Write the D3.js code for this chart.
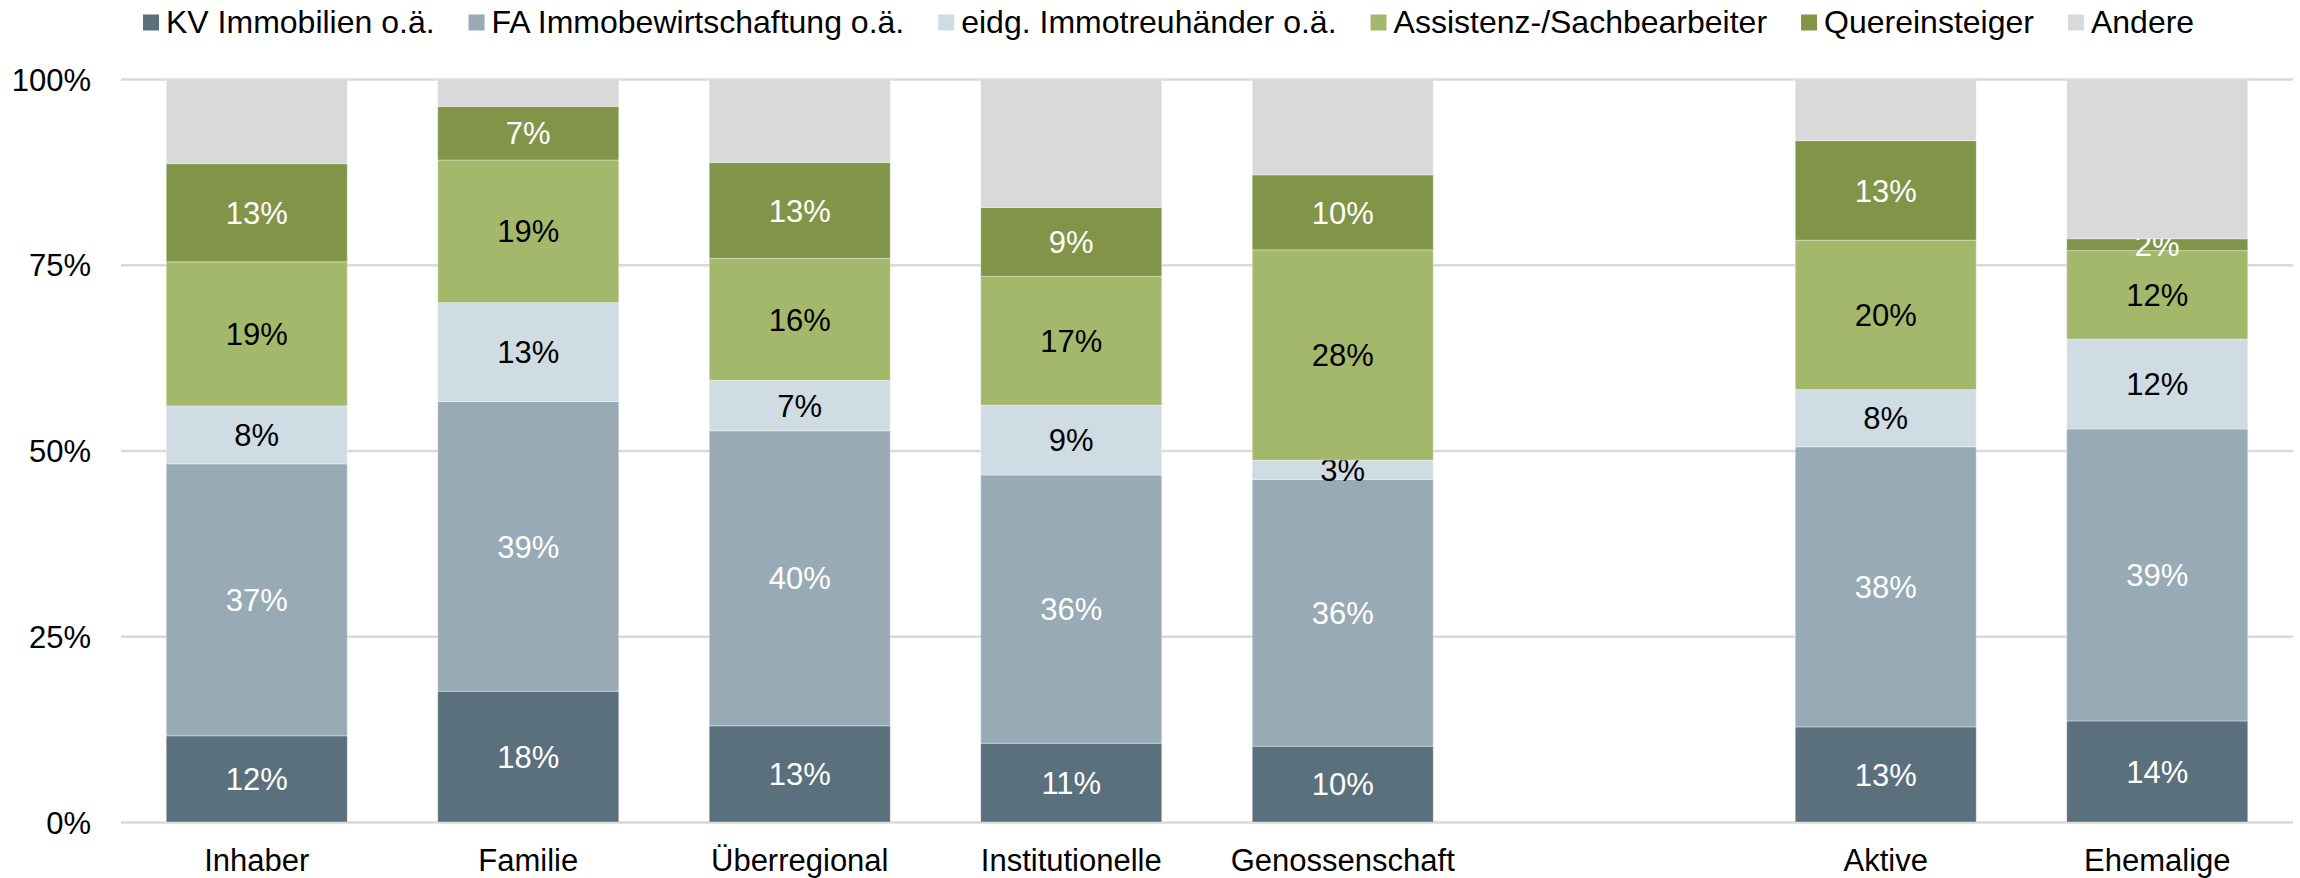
<!DOCTYPE html>
<html>
<head>
<meta charset="utf-8">
<script src="https://cdn.jsdelivr.net/npm/d3@7"></script>
<style>
  body { margin: 0; background: #fff; }
  svg text { font-family: "Liberation Sans", Arial, sans-serif; }
</style>
</head>
<body>
<script>
// categories (the empty one is the gap before Aktive / Ehemalige)
var categories = ["Inhaber", "Familie", "Überregional", "Institutionelle", "Genossenschaft", "", "Aktive", "Ehemalige"];

var seriesNames = ["KV Immobilien o.ä.", "FA Immobewirtschaftung o.ä.", "eidg. Immotreuhänder o.ä.", "Assistenz-/Sachbearbeiter", "Quereinsteiger", "Andere"];

// shares in percent, one array per series
var kv       = [11.6, 17.6, 12.95, 10.6, 10.2, null, 12.8, 13.6];
var fa       = [36.6, 39.0, 39.7, 36.1, 35.9, null, 37.7, 39.3];
var eidg     = [7.8, 13.3, 6.8, 9.4, 2.6, null, 7.7, 12.1];
var assist   = [19.4, 19.2, 16.4, 17.35, 28.3, null, 20.1, 11.9];
var quer     = [13.2, 7.2, 12.9, 9.25, 10.1, null, 13.4, 1.6];
var andere   = [11.4, 3.7, 11.25, 17.3, 12.9, null, 8.3, 21.5];

var seriesValues = [kv, fa, eidg, assist, quer, andere];
var yTicks = [0, 25, 50, 75, 100];

var colors = ["#5a707d", "#97aab5", "#d0dce4", "#a4b86c", "#819448", "#d9d9d9"];
var labelColors = ["#fff", "#fff", "#000", "#000", "#fff", null];

// set the dimensions and margins of the graph
var margin = {top: 79, right: 7, bottom: 56, left: 121},
width = 2300 - margin.left - margin.right,
height = 878 - margin.top - margin.bottom;

var svgRoot = d3.select("body").append("svg")
.attr("width", width + margin.left + margin.right)
.attr("height", height + margin.top + margin.bottom);

var svg = svgRoot.append("g")
.attr("transform", "translate(" + margin.left + "," + margin.top + ")");

// build rows for the stack
var keys = seriesNames.map(function(d, i) { return "s" + i; });
var rows = categories.map(function(c, j) {
  var r = {cat: c};
  keys.forEach(function(k, i) { r[k] = seriesValues[i][j] || 0; });
  return r;
});
var stacked = d3.stack().keys(keys)(rows);

var x = d3.scaleBand().domain(categories).range([0, width]).paddingInner(1/3).paddingOuter(1/6);
var y = d3.scaleLinear().domain([0, 100]).range([height, 0]);

// gridlines + y labels
var yAxis = svg.append("g")
.call(d3.axisLeft(y).tickValues(yTicks).tickSize(-width).tickFormat(function(d) { return d + "%"; }));
yAxis.select(".domain").remove();
yAxis.selectAll("line").attr("stroke", "#d9d9d9").attr("stroke-width", 2.5);
yAxis.selectAll("text")
.attr("x", -30)
.attr("dy", "0.36em")
.style("font-size", "31px")
.attr("fill", "#000");

// bars
var layer = svg.selectAll(".layer").data(stacked).enter().append("g")
.attr("class", "layer")
.attr("fill", function(d, i) { return colors[i]; });

layer.selectAll("rect")
.data(function(d) { return d.filter(function(p) { return p.data.cat !== ""; }); })
.enter().append("rect")
.attr("x", function(d) { return x(d.data.cat); })
.attr("width", x.bandwidth())
.attr("y", function(d) { return y(d[1]); })
.attr("height", function(d) { return y(d[0]) - y(d[1]); })
.attr("stroke", "#fff")
.attr("stroke-opacity", 0.35)
.attr("stroke-width", 1);

// value labels
layer.each(function(s, i) {
  if (!labelColors[i]) return;
  d3.select(this).selectAll("text")
  .data(s.filter(function(p) { return p.data.cat !== ""; }))
  .enter().append("text")
  .attr("x", function(d) { return x(d.data.cat) + x.bandwidth() / 2; })
  .attr("y", function(d) { return y((d[0] + d[1]) / 2); })
  .attr("dy", "0.36em")
  .attr("text-anchor", "middle")
  .attr("fill", labelColors[i])
  .style("font-size", "31px")
  .text(function(d) { return Math.round(d[1] - d[0]) + "%"; });
});

// x axis labels
var xAxis = svg.append("g")
.attr("transform", "translate(0," + height + ")")
.call(d3.axisBottom(x).tickSize(0));
xAxis.select(".domain").remove();
xAxis.selectAll("text")
.attr("y", 49)
.attr("dy", 0)
.attr("fill", "#000")
.style("font-size", "31px");

// legend
var legend = svgRoot.append("g").attr("transform", "translate(143,0)");
var lx = 0;
seriesNames.forEach(function(name, i) {
  var item = legend.append("g").attr("transform", "translate(" + lx + ",0)");
  item.append("rect")
  .attr("x", 0).attr("y", 14.5)
  .attr("width", 16).attr("height", 16)
  .attr("fill", colors[i]);
  var t = item.append("text")
  .attr("x", 23).attr("y", 32.5)
  .style("font-size", "32px")
  .attr("fill", "#000")
  .text(name);
  lx += 23 + t.node().getComputedTextLength() + 34;
});
</script>
</body>
</html>
